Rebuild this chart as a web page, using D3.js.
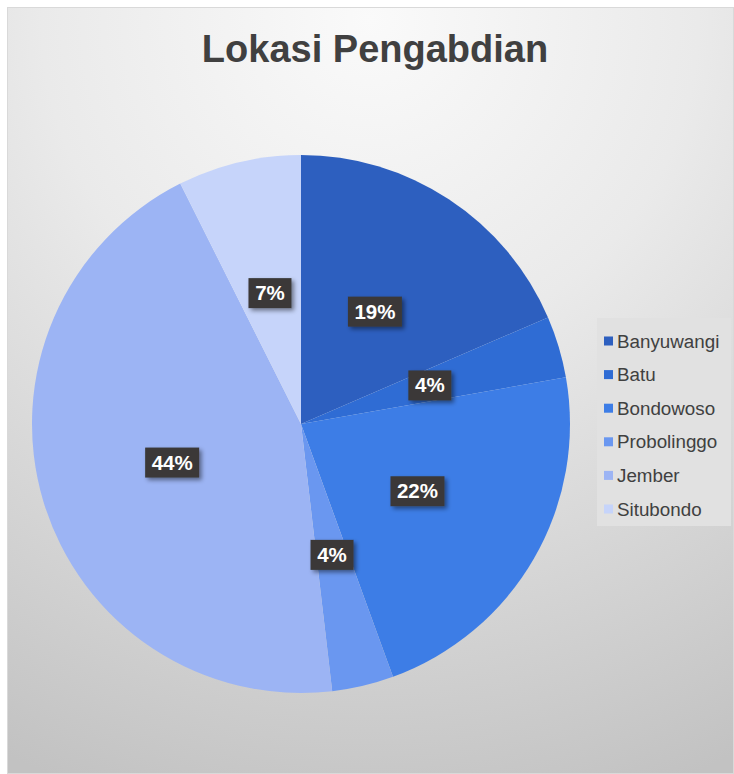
<!DOCTYPE html>
<html>
<head>
<meta charset="utf-8">
<script src="https://cdn.jsdelivr.net/npm/d3@7"></script>
<style>
html,body{margin:0;padding:0;background:#fff;}
svg{display:block;}
</style>
</head>
<body>
<script>
const categories = ["Banyuwangi","Batu","Bondowoso","Probolinggo","Jember","Situbondo"];
const values = [5,1,6,1,12,2];
const colors = ["#2D5FBF","#2F6CD4","#3D7DE6","#6A97F0","#9CB4F4","#C6D4FA"];
const title = "Lokasi Pengabdian";

const W = 734, H = 774;
const svg = d3.select("body").append("svg").attr("width", W).attr("height", H);
const defs = svg.append("defs");

const grad = defs.append("radialGradient").attr("id","bg")
  .attr("gradientUnits","userSpaceOnUse")
  .attr("cx", 370).attr("cy", 20).attr("r", 820);
grad.append("stop").attr("offset","0%").attr("stop-color","#FAFAFA");
grad.append("stop").attr("offset","40%").attr("stop-color","#EAEAEA");
grad.append("stop").attr("offset","100%").attr("stop-color","#C2C2C2");

const sh = defs.append("filter").attr("id","shadow")
  .attr("x","-30%").attr("y","-30%").attr("width","170%").attr("height","180%");
sh.append("feDropShadow").attr("dx",2.5).attr("dy",2.5).attr("stdDeviation",2)
  .attr("flood-color","#000").attr("flood-opacity",0.45);

svg.append("rect").attr("x",7.5).attr("y",7.5).attr("width",W-8).attr("height",H-8)
  .attr("fill","url(#bg)").attr("stroke","#D9D9D9").attr("stroke-width",1);

svg.append("text").attr("x",375).attr("y",62).attr("text-anchor","middle")
  .attr("font-family","'Liberation Sans', Arial, sans-serif").attr("font-weight","bold")
  .attr("font-size",38).attr("fill","#404040").text(title);

const cx = 301, cy = 424, R = 269;
const total = d3.sum(values);
const pie = d3.pie().sort(null).value(d => d)(values);
const arc = d3.arc().innerRadius(0).outerRadius(R);
const labelArc = d3.arc().innerRadius(R*0.5).outerRadius(R*0.5);

const g = svg.append("g").attr("transform",`translate(${cx},${cy})`);
g.selectAll("path.slice").data(pie).enter().append("path")
  .attr("class","slice").attr("d",arc).attr("fill",(d,i)=>colors[i]);

const labels = g.selectAll("g.lbl").data(pie).enter().append("g").attr("class","lbl")
  .attr("transform", d => { const c = labelArc.centroid(d); return `translate(${c[0]},${c[1]})`; });
labels.each(function(d){
  const sel = d3.select(this);
  const txt = Math.round(d.value/total*100) + "%";
  const w = txt.length === 2 ? 43 : 54;
  sel.append("rect").attr("x",-w/2).attr("y",-15).attr("width",w).attr("height",30)
    .attr("fill","#3A3938").attr("filter","url(#shadow)");
  sel.append("text").attr("text-anchor","middle").attr("y",7)
    .attr("font-family","'Liberation Sans', Arial, sans-serif").attr("font-weight","bold")
    .attr("font-size",20.5).attr("fill","#FFFFFF").text(txt);
});

const lg = svg.append("g");
lg.append("rect").attr("x",597).attr("y",318).attr("width",134).attr("height",208)
  .attr("fill","#E1E1E1");
const items = lg.selectAll("g.item").data(categories).enter().append("g").attr("class","item")
  .attr("transform",(d,i)=>`translate(604,${341 + i*33.6})`);
items.append("rect").attr("x",0).attr("y",-4.5).attr("width",9).attr("height",9)
  .attr("fill",(d,i)=>colors[i]);
items.append("text").attr("x",13).attr("y",6.5)
  .attr("font-family","'Liberation Sans', Arial, sans-serif")
  .attr("font-size",18.8).attr("fill","#404040").text(d=>d);
</script>
</body>
</html>
